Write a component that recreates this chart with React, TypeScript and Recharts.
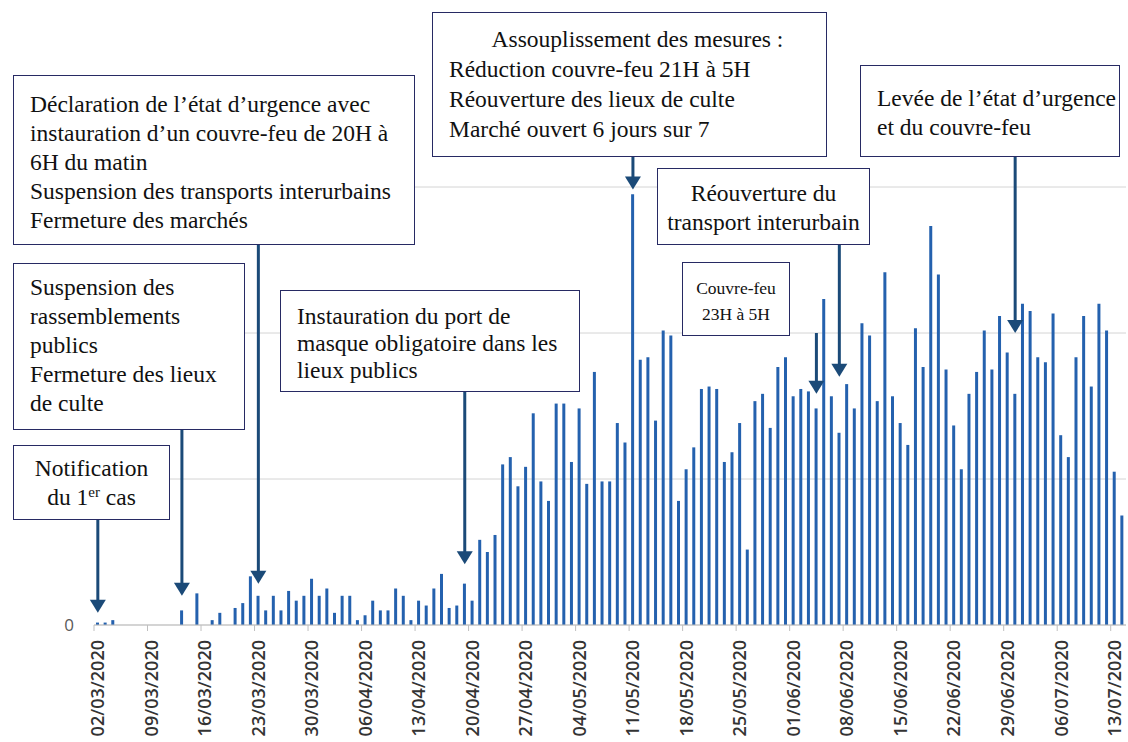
import React from "react";
import { BarChart, Bar, XAxis, YAxis, CartesianGrid, ReferenceLine } from "recharts";

// daily dates, 02/03/2020 -> 14/07/2020
const dates = [
  "02/03/2020", "03/03/2020", "04/03/2020", "05/03/2020", "06/03/2020", "07/03/2020", "08/03/2020", "09/03/2020", "10/03/2020", "11/03/2020",
  "12/03/2020", "13/03/2020", "14/03/2020", "15/03/2020", "16/03/2020", "17/03/2020", "18/03/2020", "19/03/2020", "20/03/2020", "21/03/2020",
  "22/03/2020", "23/03/2020", "24/03/2020", "25/03/2020", "26/03/2020", "27/03/2020", "28/03/2020", "29/03/2020", "30/03/2020", "31/03/2020",
  "01/04/2020", "02/04/2020", "03/04/2020", "04/04/2020", "05/04/2020", "06/04/2020", "07/04/2020", "08/04/2020", "09/04/2020", "10/04/2020",
  "11/04/2020", "12/04/2020", "13/04/2020", "14/04/2020", "15/04/2020", "16/04/2020", "17/04/2020", "18/04/2020", "19/04/2020", "20/04/2020",
  "21/04/2020", "22/04/2020", "23/04/2020", "24/04/2020", "25/04/2020", "26/04/2020", "27/04/2020", "28/04/2020", "29/04/2020", "30/04/2020",
  "01/05/2020", "02/05/2020", "03/05/2020", "04/05/2020", "05/05/2020", "06/05/2020", "07/05/2020", "08/05/2020", "09/05/2020", "10/05/2020",
  "11/05/2020", "12/05/2020", "13/05/2020", "14/05/2020", "15/05/2020", "16/05/2020", "17/05/2020", "18/05/2020", "19/05/2020", "20/05/2020",
  "21/05/2020", "22/05/2020", "23/05/2020", "24/05/2020", "25/05/2020", "26/05/2020", "27/05/2020", "28/05/2020", "29/05/2020", "30/05/2020",
  "31/05/2020", "01/06/2020", "02/06/2020", "03/06/2020", "04/06/2020", "05/06/2020", "06/06/2020", "07/06/2020", "08/06/2020", "09/06/2020",
  "10/06/2020", "11/06/2020", "12/06/2020", "13/06/2020", "14/06/2020", "15/06/2020", "16/06/2020", "17/06/2020", "18/06/2020", "19/06/2020",
  "20/06/2020", "21/06/2020", "22/06/2020", "23/06/2020", "24/06/2020", "25/06/2020", "26/06/2020", "27/06/2020", "28/06/2020", "29/06/2020",
  "30/06/2020", "01/07/2020", "02/07/2020", "03/07/2020", "04/07/2020", "05/07/2020", "06/07/2020", "07/07/2020", "08/07/2020", "09/07/2020",
  "10/07/2020", "11/07/2020", "12/07/2020", "13/07/2020", "14/07/2020",
];

const marchCases = [1, 1, 2, 0, 0, 0, 0, 0, 0, 0, 0, 6, 0, 13, 0, 2, 5, 0, 7, 9, 20, 12, 6, 12, 6, 14, 10, 12, 19, 12];
const aprilCases = [15, 5, 12, 12, 2, 4, 10, 6, 6, 15, 12, 2, 10, 8, 15, 21, 7, 8, 17, 10, 35, 30, 37, 66, 69, 57, 65, 87, 59, 51];
const mayCases = [91, 91, 67, 89, 58, 104, 59, 59, 83, 75, 177, 109, 110, 84, 121, 119, 51, 64, 73, 97, 98, 97, 67, 71, 83, 31, 92, 95, 81, 106, 110];
const juneCases = [94, 97, 96, 89, 134, 94, 79, 99, 89, 124, 119, 92, 145, 94, 83, 74, 122, 106, 164, 144, 105, 82, 64, 95, 104, 121, 105, 127, 112, 95];
const julyCases = [132, 129, 110, 108, 128, 78, 69, 110, 127, 98, 132, 121, 63, 45];

const cases = [...marchCases, ...aprilCases, ...mayCases, ...juneCases, ...julyCases];
const yTicks = [0, 60, 120, 180];

const data = dates.map((d, i) => ({ date: d, cases: cases[i] }));

// arrows: date pointed at, start (box bottom) and tip, in chart units
const arrows = [
  { date: "02/03/2020", from: 44, to: 5 },
  { date: "13/03/2020", from: 81, to: 12 },
  { date: "23/03/2020", from: 157, to: 17 },
  { date: "19/04/2020", from: 97, to: 25 },
  { date: "11/05/2020", from: 193, to: 179 },
  { date: "04/06/2020", from: 120, to: 95 },
  { date: "07/06/2020", from: 157, to: 102 },
  { date: "30/06/2020", from: 193, to: 120 },
];

type Note = {
  left: number;
  top: number;
  width: number;
  height: number;
  padTop: number;
  align: "left" | "center";
  fontSize?: number;
  lineHeight?: number;
  lines: React.ReactNode[];
};

const notes: Note[] = [
  {
    left: 13, top: 445, width: 157, height: 75, padTop: 8, align: "center",
    lines: ["Notification", <>du 1<sup style={{ fontSize: 15, verticalAlign: 8, lineHeight: 0 }}>er</sup> cas</>],
  },
  {
    left: 13, top: 263, width: 232, height: 167, padTop: 9, align: "left",
    lines: ["Suspension des", "rassemblements", "publics", "Fermeture des lieux", "de culte"],
  },
  {
    left: 13, top: 75, width: 402, height: 170, padTop: 14, align: "left",
    lines: [
      "Déclaration de l’état d’urgence avec",
      "instauration d’un couvre-feu de 20H à",
      "6H du matin",
      "Suspension des transports interurbains",
      "Fermeture des marchés",
    ],
  },
  {
    left: 280, top: 290, width: 300, height: 102, padTop: 12, align: "left", lineHeight: 27,
    lines: ["Instauration du port de", "masque obligatoire dans les", "lieux publics"],
  },
  {
    left: 432, top: 12, width: 395, height: 145, padTop: 11, align: "left", lineHeight: 30,
    lines: [
      <div style={{ textAlign: "center" }}>Assouplissement des mesures :</div>,
      "Réduction couvre-feu 21H à 5H",
      "Réouverture des lieux de culte",
      "Marché ouvert 6 jours sur 7",
    ],
  },
  {
    left: 657, top: 168, width: 213, height: 77, padTop: 10, align: "center",
    lines: ["Réouverture du", "transport interurbain"],
  },
  {
    left: 682, top: 262, width: 108, height: 74, padTop: 12, align: "center", fontSize: 17.5, lineHeight: 26,
    lines: ["Couvre-feu", "23H à 5H"],
  },
  {
    left: 860, top: 65, width: 260, height: 92, padTop: 18, align: "left",
    lines: ["Levée de l’état d’urgence", "et du couvre-feu"],
  },
];

const BAR = "#2461ae";
const ARROW = "#1b4a78";
const BOX = "#272a63";
const SERIF = '"Liberation Serif", "Times New Roman", Times, serif';

function Arrow(props: any) {
  const { x1, y1, x2, y2 } = props;
  const head = 13;
  return (
    <g>
      <line x1={x1} y1={y1} x2={x2} y2={y2 - head + 1} stroke={ARROW} strokeWidth={3} />
      <polygon points={`${x2 - 8},${y2 - head} ${x2 + 8},${y2 - head} ${x2},${y2}`} fill={ARROW} />
    </g>
  );
}

function DateTick(props: any) {
  const { x, y, payload } = props;
  const half = 1032 / dates.length / 2;
  return (
    <g>
      <line x1={x - half} y1={y - 15} x2={x - half} y2={y - 9} stroke="#bfbfbf" />
      <g transform={`translate(${x},${y})`}>
        <text
          transform="rotate(-90)"
          textAnchor="end"
          dy="0.36em"
          fontFamily="Open Sans"
          fontWeight={600}
          fontSize={18}
          fill="#333"
        >
          {payload.value}
        </text>
      </g>
    </g>
  );
}

export default function App() {
  return (
    <div style={{ position: "absolute", left: 0, top: 0, width: 1128, height: 742, background: "#fff" }}>
      <BarChart
        width={1128}
        height={742}
        data={data}
        margin={{ top: 187, right: 2, bottom: 0, left: 64 }}
      >
        <CartesianGrid vertical={false} stroke="#d4d4d4" />
        <XAxis
          dataKey="date"
          interval={6}
          height={117}
          tickSize={6}
          tickMargin={9}
          tickLine={false}
          axisLine={{ stroke: "#bfbfbf" }}
          tick={<DateTick />}
        />
        <YAxis
          width={30}
          domain={[0, 180]}
          ticks={yTicks}
          axisLine={false}
          tickLine={false}
          tickSize={0}
          tickMargin={20}
          tickFormatter={(v: number) => (v === 0 ? "0" : "")}
          tick={{ fontFamily: "Open Sans", fontSize: 17, fill: "#595959" }}
        />
        <Bar dataKey="cases" fill={BAR} barSize={3} isAnimationActive={false} />
        {arrows.map((a) => (
          <ReferenceLine
            key={a.date}
            segment={[{ x: a.date, y: a.from }, { x: a.date, y: a.to }]}
            ifOverflow="visible"
            shape={(p: any) => <Arrow {...p} />}
          />
        ))}
      </BarChart>
      {notes.map((n, i) => (
        <div
          key={i}
          style={{
            position: "absolute",
            left: n.left,
            top: n.top,
            width: n.width,
            height: n.height,
            boxSizing: "border-box",
            border: `1.5px solid ${BOX}`,
            background: "#fff",
            paddingTop: n.padTop,
            paddingLeft: n.align === "left" ? 16 : 0,
            textAlign: n.align,
            fontFamily: SERIF,
            fontSize: n.fontSize ?? 23.5,
            lineHeight: `${n.lineHeight ?? 29}px`,
            color: "#111",
            whiteSpace: "nowrap",
          }}
        >
          {n.lines.map((l, j) => (
            <div key={j}>{l}</div>
          ))}
        </div>
      ))}
    </div>
  );
}
